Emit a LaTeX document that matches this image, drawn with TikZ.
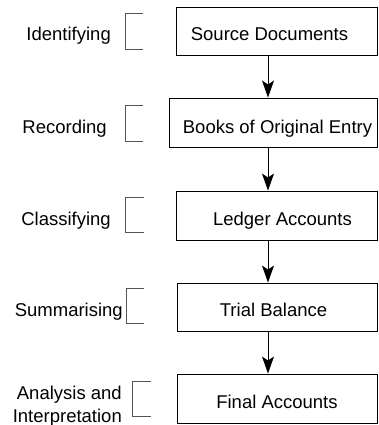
\documentclass[tikz,border=0pt]{standalone}
\usepackage{fontspec}
\setmainfont{Liberation Sans}
\usetikzlibrary{arrows.meta}
\begin{document}
\begin{tikzpicture}[x=1pt,y=-1pt,
  box/.style={draw=black,line width=0.9pt,inner sep=0pt,fill=none},
  txt/.style={inner sep=0pt,font=\fontsize{18.5}{22}\selectfont},
  arr/.style={line width=0.9pt,-{Stealth[length=17pt,width=12pt,inset=4pt]}},
  brk/.style={draw={rgb,255:red,85;green,85;blue,85},line width=0.8pt}]
\useasboundingbox (0,0) rectangle (378,425);
% boxes
\node[box,minimum width=200.5pt,minimum height=48pt] (b1) at (276.75,31) {};
\node[box,minimum width=208pt,minimum height=49pt] (b2) at (273,122.5) {};
\node[box,minimum width=201pt,minimum height=49pt] (b3) at (276.5,215.5) {};
\node[box,minimum width=200pt,minimum height=48pt] (b4) at (277,307) {};
\node[box,minimum width=200pt,minimum height=49pt] (b5) at (277,398.5) {};
% box texts
\node[txt,anchor=base] (t1) at (269.5,41) {Source Documents};
\node[txt,anchor=base] (t2) at (277.5,133) {Books of Original Entry};
\node[txt,anchor=base] (t3) at (282.5,225.5) {Ledger Accounts};
\node[txt,anchor=base] (t4) at (273.5,316.5) {Trial Balance};
\node[txt,anchor=base] (t5) at (277,408.5) {Final Accounts};
% arrows
\coordinate (ax) at (268,0);
\draw[arr] (b1.south -| ax) -- (b2.north -| ax);
\draw[arr] (b2.south -| ax) -- (b3.north -| ax);
\draw[arr] (b3.south -| ax) -- (b4.north -| ax);
\draw[arr] (b4.south -| ax) -- (b5.north -| ax);
% labels
\node[txt,anchor=base east] (l1) at (111,41) {Identifying};
\node[txt,anchor=base east] (l2) at (107,133) {Recording};
\node[txt,anchor=base east] (l3) at (111,225) {Classifying};
\node[txt,anchor=base east] (l4) at (123,316) {Summarising};
\node[txt,anchor=base east] (l5a) at (122,399) {Analysis and};
\node[txt,anchor=base east] (l5b) at (122,422) {Interpretation};
% brackets
\draw[brk] (143,13) -- (125,13) -- (125,49) -- (143,49);
\draw[brk] (143,105) -- (125,105) -- (125,141) -- (143,141);
\draw[brk] (144,197) -- (125,197) -- (125,232) -- (144,232);
\draw[brk] (144,288) -- (126,288) -- (126,323) -- (144,323);
\draw[brk] (151,381) -- (132,381) -- (132,416) -- (151,416);
\end{tikzpicture}
\end{document}
